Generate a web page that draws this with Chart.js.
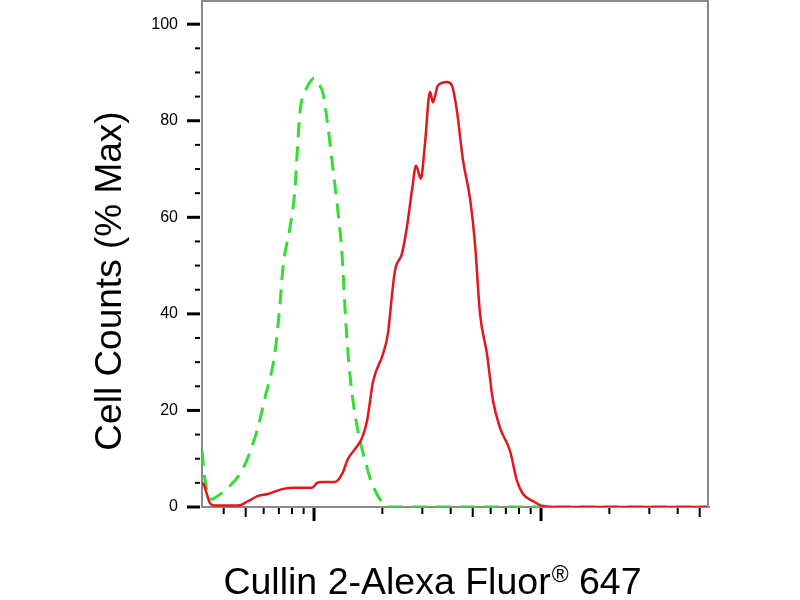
<!DOCTYPE html>
<html>
<head>
<meta charset="utf-8">
<title>Cullin 2 flow histogram</title>
<script src="https://cdn.jsdelivr.net/npm/chart.js@4.4.1/dist/chart.umd.min.js"></script>
<style>
  html, body { margin: 0; padding: 0; background: #fff; }
  #wrap { width: 800px; height: 600px; }
</style>
</head>
<body>
<div id="wrap"><canvas id="histChart"></canvas></div>
<script>
// Isotype control (green dashed)
const controlX = [321, 328, 338, 355, 366, 418, 487, 561, 608, 673, 708, 730, 784, 825, 842, 868, 913, 960, 1000, 1052, 1095, 1153, 1212, 1276, 1328, 1370, 1412, 1485, 1595, 1694, 1765, 1876, 1993, 2097, 54950];
const controlY = [11.6, 7, 3.3, 1.6, 1.9, 4, 8, 15.8, 22.6, 32, 42, 49.6, 58, 66, 73, 82, 86, 88, 88.8, 87.5, 85.7, 78.6, 70, 61, 52.5, 41, 31.7, 22, 13.7, 9, 6, 3, 1, 0, 0];

// Cullin 2 stained sample (red solid)
const stainedX = [321, 328, 338, 348, 366, 463, 512, 567, 627, 723, 825, 980, 1031, 1085, 1237, 1328, 1412, 1516, 1627, 1712, 1820, 2014, 2118, 2206, 2274, 2440, 2566, 2701, 2814, 2956, 3082, 3241, 3341, 3515, 3854, 4051, 4262, 4532, 4863, 5116, 5387, 5780, 6146, 6599, 7302, 7836, 8331, 9221, 10200, 12120, 54950];
const stainedY = [5, 4.5, 2.5, 0.8, 0.3, 0.3, 1.2, 2.3, 2.7, 3.7, 4, 4, 5, 5.2, 5.2, 6.8, 10, 12, 14.3, 17.8, 26, 31.7, 36, 44, 49, 52.5, 58, 65.6, 70.7, 68, 75.3, 86, 83.8, 87.3, 88, 87.3, 82, 71.8, 64, 54.6, 40, 31.7, 22, 16.4, 11.6, 5.4, 2.7, 1.2, 0.2, 0, 0];

// Axis ticks
const yTickLabels = [0, 20, 40, 60, 80, 100];
const yMinorTicks = [5, 10, 15, 25, 30, 35, 45, 50, 55, 65, 70, 75, 85, 90, 95];
const xMajorTicks = [1000, 10000];
const xMidTicks = [500, 5000, 50000];
const xMinorTicks = [400, 600, 700, 800, 900, 2000, 3000, 4000, 6000, 7000, 8000, 9000, 20000, 30000, 40000];

const xTitle = ["Cullin 2-Alexa Fluor", "®", " 647"];
const yTitle = "Cell Counts (% Max)";

const toPoints = (xs, ys) => xs.map((x, i) => ({ x: x, y: ys[i] }));

// Frame, tick marks and axis titles
const axisDecor = {
  id: "axisDecor",
  afterDraw(chart) {
    const { ctx, chartArea: a, scales } = chart;
    const x = scales.x;
    const y = scales.y;

    const seg = (x1, y1, x2, y2, w, color) => {
      ctx.beginPath();
      ctx.lineWidth = w;
      ctx.strokeStyle = color;
      ctx.moveTo(x1, y1);
      ctx.lineTo(x2, y2);
      ctx.stroke();
    };

    ctx.save();
    // top and right frame
    seg(a.left, a.top, a.right, a.top, 2, "#8a8a8a");
    seg(a.right - 1, a.top, a.right - 1, a.bottom, 2, "#8a8a8a");

    // y ticks
    yTickLabels.forEach((v) => {
      const py = y.getPixelForValue(v);
      seg(a.left - 15, py, a.left - 2, py, 3, "#000");
    });
    yMinorTicks.forEach((v) => {
      const py = y.getPixelForValue(v);
      seg(a.left - 7, py, a.left - 2, py, 2, "#000");
    });

    // x ticks
    xMajorTicks.forEach((v) => {
      const px = x.getPixelForValue(v);
      seg(px, a.bottom + 1, px, a.bottom + 14, 3, "#000");
    });
    xMidTicks.forEach((v) => {
      const px = x.getPixelForValue(v);
      seg(px, a.bottom + 1, px, a.bottom + 10, 2, "#000");
    });
    xMinorTicks.forEach((v) => {
      const px = x.getPixelForValue(v);
      seg(px, a.bottom + 1, px, a.bottom + 7, 2, "#000");
    });

    // x title with superscript ®
    ctx.fillStyle = "#000";
    ctx.textBaseline = "alphabetic";
    ctx.textAlign = "left";
    const bigFont = '37.5px "Liberation Sans", Arial, sans-serif';
    const smallFont = '23px "Liberation Sans", Arial, sans-serif';
    ctx.font = bigFont;
    const w1 = ctx.measureText(xTitle[0]).width;
    const w3 = ctx.measureText(xTitle[2]).width;
    ctx.font = smallFont;
    const w2 = ctx.measureText(xTitle[1]).width;
    let tx = 432 - (w1 + w2 + w3) / 2;
    const baseY = 594;
    ctx.font = bigFont;
    ctx.fillText(xTitle[0], tx, baseY);
    tx += w1 + 1;
    ctx.font = smallFont;
    ctx.fillText(xTitle[1], tx, baseY - 12);
    tx += w2;
    ctx.font = bigFont;
    ctx.fillText(xTitle[2], tx, baseY);

    // y title
    ctx.translate(121, 281);
    ctx.rotate(-Math.PI / 2);
    ctx.textAlign = "center";
    ctx.font = '37px "Liberation Sans", Arial, sans-serif';
    ctx.fillText(yTitle, 0, 0);
    ctx.restore();
  },
};

const initHistogram = () => {
  const ctx = document.getElementById("histChart").getContext("2d");

  new Chart(ctx, {
    type: "line",
    data: {
      datasets: [
        {
          label: "Cullin 2",
          data: toPoints(stainedX, stainedY),
          borderColor: "#e3161c",
          borderWidth: 2.5,
          pointRadius: 0,
          cubicInterpolationMode: "monotone",
          order: 0,
        },
        {
          label: "Control",
          data: toPoints(controlX, controlY),
          borderColor: "#35dc35",
          borderWidth: 3,
          borderDash: [15, 9],
          pointRadius: 0,
          cubicInterpolationMode: "monotone",
          order: 1,
        },
      ],
    },
    options: {
      responsive: true,
      maintainAspectRatio: false,
      animation: false,
      layout: { padding: { top: 1, right: 91, left: 0, bottom: 0 } },
      plugins: {
        legend: { display: false },
        tooltip: { enabled: false },
      },
      scales: {
        x: {
          type: "logarithmic",
          min: 321,
          max: 54950,
          grid: { display: false, drawTicks: false },
          border: { display: true, color: "#8a8a8a", width: 2 },
          ticks: { display: false },
          afterFit: (s) => {
            s.height = 93;
            s.paddingLeft = 0;
            s.paddingRight = 0;
          },
        },
        y: {
          min: 0,
          max: 104.8,
          grid: { display: false, drawTicks: false },
          border: { display: true, color: "#8a8a8a", width: 2 },
          ticks: {
            stepSize: 20,
            padding: 24,
            color: "#000",
            font: { family: '"Liberation Sans", Arial, sans-serif', size: 16 },
            callback: (v) => (yTickLabels.includes(v) ? v : ""),
          },
          afterFit: (s) => {
            s.width = 202;
            s.paddingTop = 0;
            s.paddingBottom = 0;
          },
        },
      },
    },
    plugins: [axisDecor],
  });
};

document.addEventListener("DOMContentLoaded", () => {
  initHistogram();
});
</script>
</body>
</html>
